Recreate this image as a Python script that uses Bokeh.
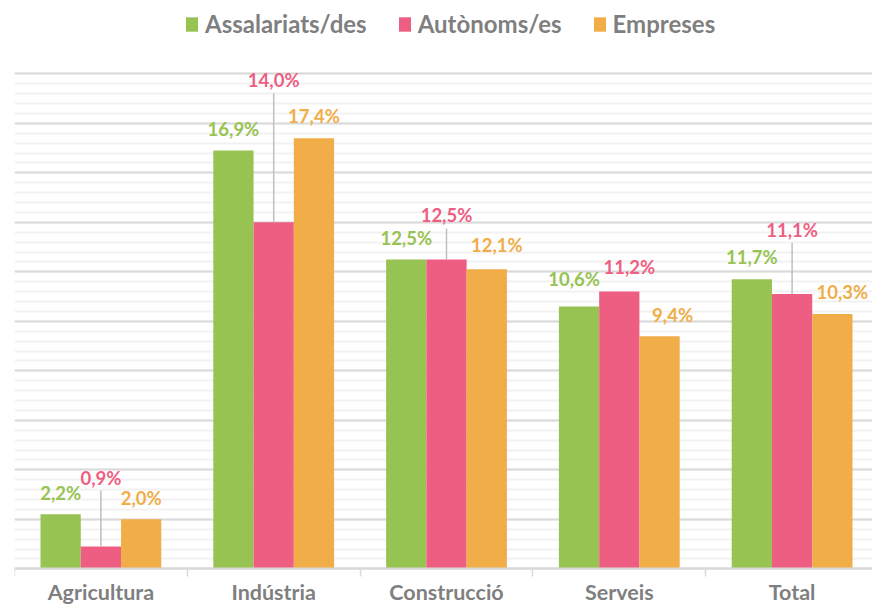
from bokeh.plotting import figure
from bokeh.models import (ColumnDataSource, Range1d, FixedTicker, Legend, LegendItem)
from bokeh.core.properties import value
from bokeh.embed import file_html
from bokeh.resources import INLINE

# ---- data ----
categories = ["Agricultura", "Indústria", "Construcció", "Serveis", "Total"]
series_names = ["Assalariats/des", "Autònoms/es", "Empreses"]
assalariats = [2.2, 16.9, 12.5, 10.6, 11.7]
autonoms = [0.9, 14.0, 12.5, 11.2, 11.1]
empreses = [2.0, 17.4, 12.1, 9.4, 10.3]
series_values = [assalariats, autonoms, empreses]

# ---- style ----
colors = ["#97C353", "#EE5E82", "#F0AD48"]
label_gap_px = [  # vertical offset (px) of each label above its bar top
    [21, 22, 21, 27, 22],
    [69, 142, 44, 25, 64],
    [21, 22, 24, 21, 22],
]
label_dx_px = [  # horizontal nudge (px) of each label
    [0, 0, 0, -5, 0],
    [0, 0, 0, 10, 0],
    [0, 0, 10, 13, 10],
]
FONT = value("Lato")
GREY = "#7f7f7f"

W, H = 872, 606
BORDER_L = 14
BASE_PX = 568.3             # screen y of the zero line
PPU = 24.75                 # pixels per percentage point
CAT_PX = 172.8              # width of a category
BAR_W = 0.233               # in category units
y_end = BASE_PX / PPU
y_start = -(H - BASE_PX) / PPU
x_end = (W - BORDER_L) / CAT_PX

p = figure(width=W, height=H, output_backend="svg", toolbar_location=None,
           x_range=Range1d(0, x_end), y_range=Range1d(y_start, y_end),
           min_border_left=BORDER_L, min_border_right=0, min_border_top=0,
           min_border_bottom=0)
p.outline_line_color = None
p.background_fill_color = "white"
p.border_fill_color = "white"

n = len(categories)
centers = [i + 0.5 for i in range(n)]
offsets = [-BAR_W, 0.0, BAR_W]

renderers = []
for s, vals in enumerate(series_values):
    xs = [c + offsets[s] for c in centers]
    src = ColumnDataSource(dict(
        x=xs, top=vals,
        label=[f"{v:.1f}".replace(".", ",") + "%" for v in vals],
        yoff=[-g for g in label_gap_px[s]],
        xoff=label_dx_px[s],
    ))
    r = p.vbar(x="x", top="top", bottom=0, width=BAR_W, source=src,
               fill_color=colors[s], line_color=None)
    renderers.append(r)
    # leader lines for lifted labels
    lx, ly0, ly1 = [], [], []
    for x, v, g in zip(xs, vals, label_gap_px[s]):
        if g > 36:
            lx.append(x)
            ly0.append(v)
            ly1.append(v + (g - 13) / PPU)
    if lx:
        p.segment(x0=lx, x1=lx, y0=ly0, y1=ly1, line_color="#bfbfbf",
                  line_width=1.5)
    p.text(x="x", y="top", text="label", source=src, y_offset="yoff",
           x_offset="xoff",
           text_align="center", text_baseline="alphabetic",
           text_font=FONT, text_font_style="bold",
           text_font_size="18.5px", text_color=colors[s])

# ---- grid ----
p.xgrid.visible = False
p.ygrid.ticker = FixedTicker(ticks=[2 * k for k in range(11)],
                             minor_ticks=[round(0.4 * k, 1) for k in range(51)])
p.ygrid.grid_line_color = "#dadada"
p.ygrid.grid_line_width = 2
p.ygrid.minor_grid_line_color = "#f2f2f2"
p.ygrid.minor_grid_line_width = 2
p.yaxis.visible = False

# ---- x axis (drawn at the zero line) ----
xa = p.xaxis[0]
xa.fixed_location = 0
xa.ticker = FixedTicker(ticks=centers, minor_ticks=list(range(n + 1)))
xa.major_label_overrides = {c: cat for c, cat in zip(centers, categories)}
xa.major_tick_line_color = None
xa.major_tick_out = 0
xa.minor_tick_line_color = "#d9d9d9"
xa.minor_tick_line_width = 1.5
xa.minor_tick_in = 0
xa.minor_tick_out = 8
xa.axis_line_color = "#d9d9d9"
xa.axis_line_width = 2
xa.major_label_text_font = "Lato"
xa.major_label_text_font_style = "bold"
xa.major_label_text_font_size = "21.5px"
xa.major_label_text_color = GREY
xa.major_label_standoff = 2

# ---- legend ----
legend = Legend(items=[LegendItem(label=nm, renderers=[r])
                       for nm, r in zip(series_names, renderers)],
                orientation="horizontal", location=(170, 568),
                glyph_width=15, glyph_height=18, label_standoff=6, spacing=30,
                padding=0, margin=0, border_line_color=None,
                background_fill_alpha=0,
                label_text_font="Lato", label_text_font_style="bold",
                label_text_font_size="24px", label_text_color=GREY)
p.add_layout(legend)

open("out.html", "w").write(file_html(p, INLINE))
